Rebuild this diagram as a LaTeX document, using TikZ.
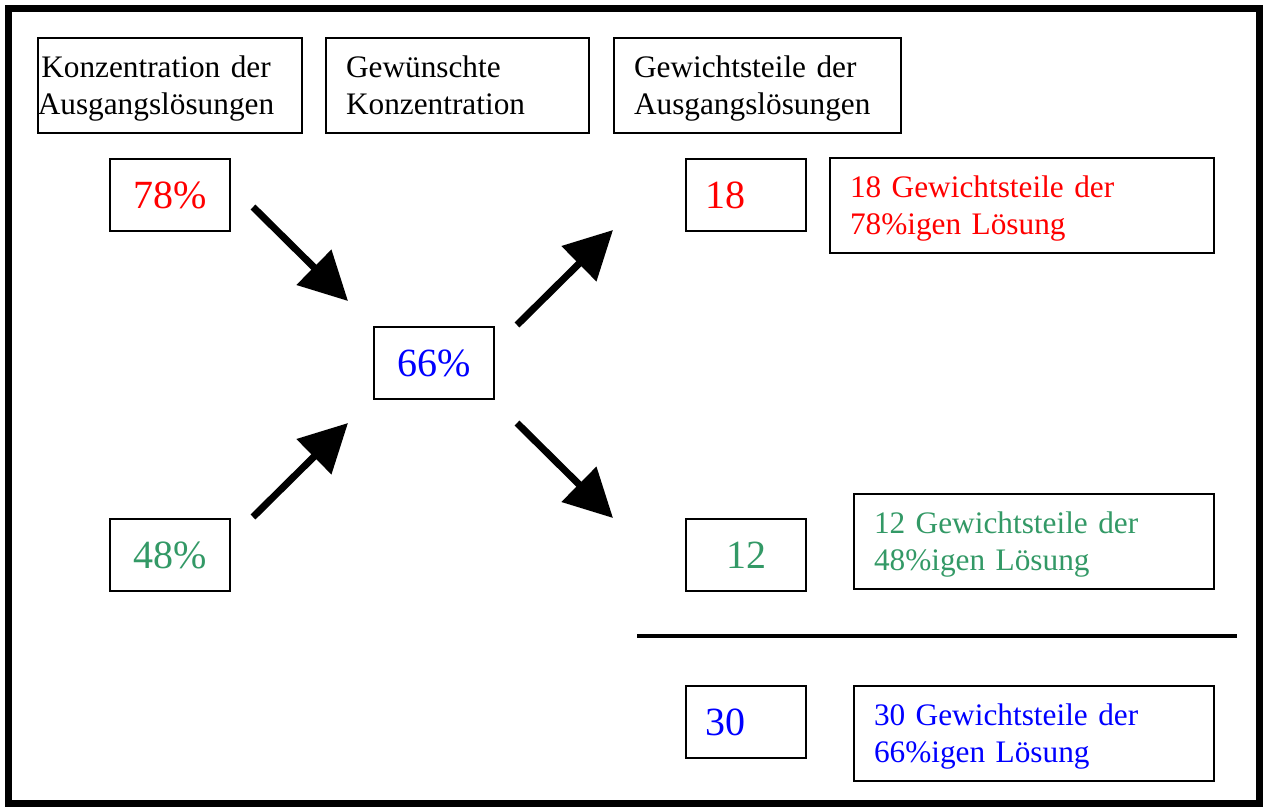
\documentclass[tikz,border=0pt]{standalone}
\usepackage{fontspec}
\setmainfont{Liberation Serif}
\usetikzlibrary{arrows.meta}
\definecolor{myred}{RGB}{255,0,0}
\definecolor{myblue}{RGB}{0,0,255}
\definecolor{mygreen}{RGB}{51,153,102}
\begin{document}
\begin{tikzpicture}[x=1pt,y=-1pt,
  hdr/.style={draw, line width=2pt, anchor=north west, minimum height=95pt, inner ysep=0pt, text depth=37pt, font=\fontsize{31.3}{37}\selectfont},
  txtbox/.style={draw, line width=2pt, anchor=north west, minimum height=95pt, inner ysep=0pt, inner xsep=20pt, text depth=37pt, align=left, font=\fontsize{31.3}{37}\selectfont},
  numbox/.style={draw, line width=2pt, anchor=north west, minimum height=72pt, inner ysep=0pt, font=\fontsize{40}{44}\selectfont},
  numc/.style={numbox, text width=100pt, inner xsep=10pt, align=center},
  numl/.style={numbox, text width=82pt, inner xsep=19pt, align=left},
  arr/.style={line width=7pt, -{Triangle[length=48pt,width=48pt]}}
]
\useasboundingbox (0,0) rectangle (1268,808);
\draw[line width=7pt] (8.5,8.5) rectangle (1259,803);

% headers
\node[hdr, text width=240pt, inner xsep=12pt, align=center] (h1) at (37,37) {\hspace*{-28pt}Konzentration der\\\hspace*{-28pt}Ausgangslösungen};
\node[hdr, text width=223pt, inner xsep=20pt, align=left] (h2) at (325,37) {Gewünschte\\Konzentration};
\node[hdr, text width=247pt, inner xsep=20pt, align=left] (h3) at (613,37) {Gewichtsteile der\\Ausgangslösungen};

% percentage boxes
\node[numc, text=myred] (p78) at (109,158) {78\%};
\node[numc, text=myblue] (p66) at (373,326) {66\%};
\node[numc, text=mygreen] (p48) at (109,518) {48\%};

% parts boxes
\node[numl, text=myred] (n18) at (685,158) {18};
\node[numc, text=mygreen] (n12) at (685,518) {12};
\node[numl, text=myblue] (n30) at (685,685) {30};

% description boxes
\node[txtbox, text width=344pt, text=myred] (t18) at (829,157) {18 Gewichtsteile der\\78\%igen Lösung};
\node[txtbox, text width=320pt, text=mygreen] (t12) at (853,493) {12 Gewichtsteile der\\48\%igen Lösung};
\node[txtbox, text width=320pt, text=myblue] (t30) at (853,685) {30 Gewichtsteile der\\66\%igen Lösung};

% sum line
\coordinate (l1) at (637,636);
\coordinate (l2) at (1237,636);
\draw[line width=4pt] (l1) -- (l2);

% arrows
\coordinate (a1s) at (253,207); \coordinate (a1e) at (348,301);
\coordinate (a2s) at (253,517); \coordinate (a2e) at (348,423);
\coordinate (a3s) at (517,325); \coordinate (a3e) at (613,230);
\coordinate (a4s) at (517,423); \coordinate (a4e) at (613,518);
\draw[arr] (a1s) -- (a1e);
\draw[arr] (a2s) -- (a2e);
\draw[arr] (a3s) -- (a3e);
\draw[arr] (a4s) -- (a4e);
\end{tikzpicture}
\end{document}
